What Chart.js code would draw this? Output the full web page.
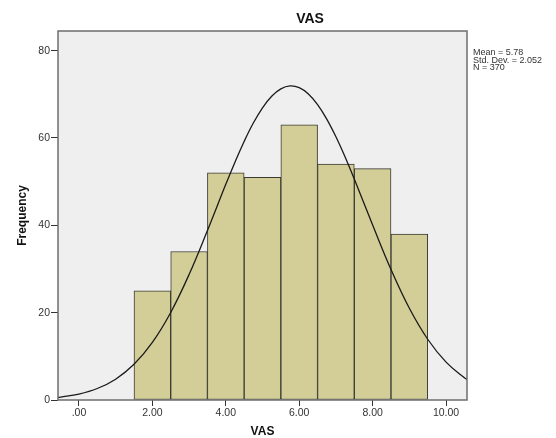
<!DOCTYPE html>
<html>
<head>
<meta charset="utf-8">
<script src="https://cdn.jsdelivr.net/npm/chart.js@4.4.1/dist/chart.umd.min.js"></script>
<style>
  html, body { margin: 0; padding: 0; background: #ffffff; }
  #wrap { width: 556px; height: 438px; position: relative; }
</style>
</head>
<body>
<div id="wrap"><canvas id="c" width="556" height="438"></canvas></div>
<script>
// ---- data ----
const chartTitle = 'VAS';
const xTitle = 'VAS';
const yTitle = 'Frequency';
const binCenters = [2, 3, 4, 5, 6, 7, 8, 9];
const frequencies = [25, 34, 52, 51, 63, 54, 53, 38];
const curveX = [-0.6, -0.5, 0, 0.5, 1, 1.5, 2, 2.5, 3, 3.5, 4, 4.25, 4.5, 4.75, 5, 5.25, 5.5, 5.75, 6, 6.25, 6.5, 6.75, 7, 7.25, 7.5, 8, 8.5, 9, 9.5, 10, 10.5, 10.6];
const curveY = [0.57, 0.67, 1.36, 2.63, 4.77, 8.17, 13.19, 20.05, 28.73, 38.80, 49.38, 54.47, 59.21, 63.42, 66.92, 69.57, 71.26, 71.92, 71.52, 70.07, 67.64, 64.33, 60.28, 55.65, 50.62, 40.07, 29.88, 21.00, 13.91, 8.68, 5.10, 4.56];
const xTicks = [0, 2, 4, 6, 8, 10];
const yTicks = [0, 20, 40, 60, 80];
const statsLines = ['Mean = 5.78', 'Std. Dev. = 2.052', 'N = 370'];

const FONT = "'Liberation Sans', Arial, sans-serif";

const framePlugin = {
  id: 'frame',
  beforeDatasetsDraw(chart) {
    const {ctx, chartArea: a} = chart;
    ctx.save();
    ctx.fillStyle = '#efefef';
    ctx.fillRect(a.left, a.top, a.right - a.left, a.bottom - a.top);
    ctx.restore();
  },
  afterDraw(chart) {
    const {ctx, chartArea: a} = chart;
    ctx.save();
    ctx.strokeStyle = '#6e6e6e';
    ctx.lineWidth = 1.5;
    ctx.strokeRect(a.left, a.top, a.right - a.left, a.bottom - a.top);
    // chart title
    ctx.fillStyle = '#111111';
    ctx.font = 'bold 14px ' + FONT;
    ctx.textAlign = 'center';
    ctx.textBaseline = 'middle';
    ctx.fillText(chartTitle, 310, 19.5);
    // statistics box text
    ctx.font = '9px ' + FONT;
    ctx.fillStyle = '#333333';
    ctx.textAlign = 'left';
    statsLines.forEach((t, i) => ctx.fillText(t, a.right + 6, 53 + i * 7.5));
    ctx.restore();
  }
};

new Chart(document.getElementById('c'), {
  type: 'bar',
  data: {
    datasets: [
      {
        type: 'line',
        data: curveX.map((x, i) => ({x: x, y: curveY[i]})),
        borderColor: '#1a1a1a',
        borderWidth: 1.3,
        pointRadius: 0,
        tension: 0.4,
        fill: false,
        order: 0
      },
      {
        type: 'bar',
        data: binCenters.map((x, i) => ({x: x, y: frequencies[i]})),
        backgroundColor: '#d3ce97',
        borderColor: '#3a3a32',
        borderWidth: 1,
        borderSkipped: false,
        barPercentage: 1,
        categoryPercentage: 1,
        order: 1
      }
    ]
  },
  options: {
    responsive: false,
    animation: false,
    layout: { padding: { left: 0, top: 31, right: 89, bottom: 0 } },
    plugins: {
      legend: { display: false },
      title: { display: false },
      tooltip: { enabled: false }
    },
    scales: {
      x: {
        type: 'linear',
        offset: false,
        min: -0.57,
        max: 10.57,
        afterBuildTicks(scale) { scale.ticks = xTicks.map(v => ({value: v})); },
        afterFit(scale) { scale.height = 38; },
        border: { display: false },
        grid: { offset: false, drawOnChartArea: false, drawTicks: true, tickLength: 6, color: '#333333', lineWidth: 1 },
        ticks: {
          padding: 1,
          color: '#333333',
          font: { family: FONT, size: 10.5 },
          maxRotation: 0,
          autoSkip: false,
          callback: v => (v === 0 ? '.00' : v.toFixed(2))
        },
        title: {
          display: true,
          text: xTitle,
          color: '#111111',
          font: { family: FONT, size: 12, weight: 'bold', lineHeight: 1 },
          padding: { top: 0, bottom: 0 }
        }
      },
      y: {
        type: 'linear',
        min: 0,
        max: 84.5,
        afterBuildTicks(scale) { scale.ticks = yTicks.map(v => ({value: v})); },
        afterFit(scale) { scale.width = 58; },
        border: { display: false },
        grid: { drawOnChartArea: false, drawTicks: true, tickLength: 7, color: '#333333', lineWidth: 1 },
        ticks: {
          padding: 1,
          color: '#333333',
          font: { family: FONT, size: 10.5 },
          autoSkip: false
        },
        title: {
          display: true,
          text: yTitle,
          color: '#111111',
          font: { family: FONT, size: 12, weight: 'bold' },
          padding: { top: 15, bottom: 0 }
        }
      }
    }
  },
  plugins: [framePlugin]
});
</script>
</body>
</html>
